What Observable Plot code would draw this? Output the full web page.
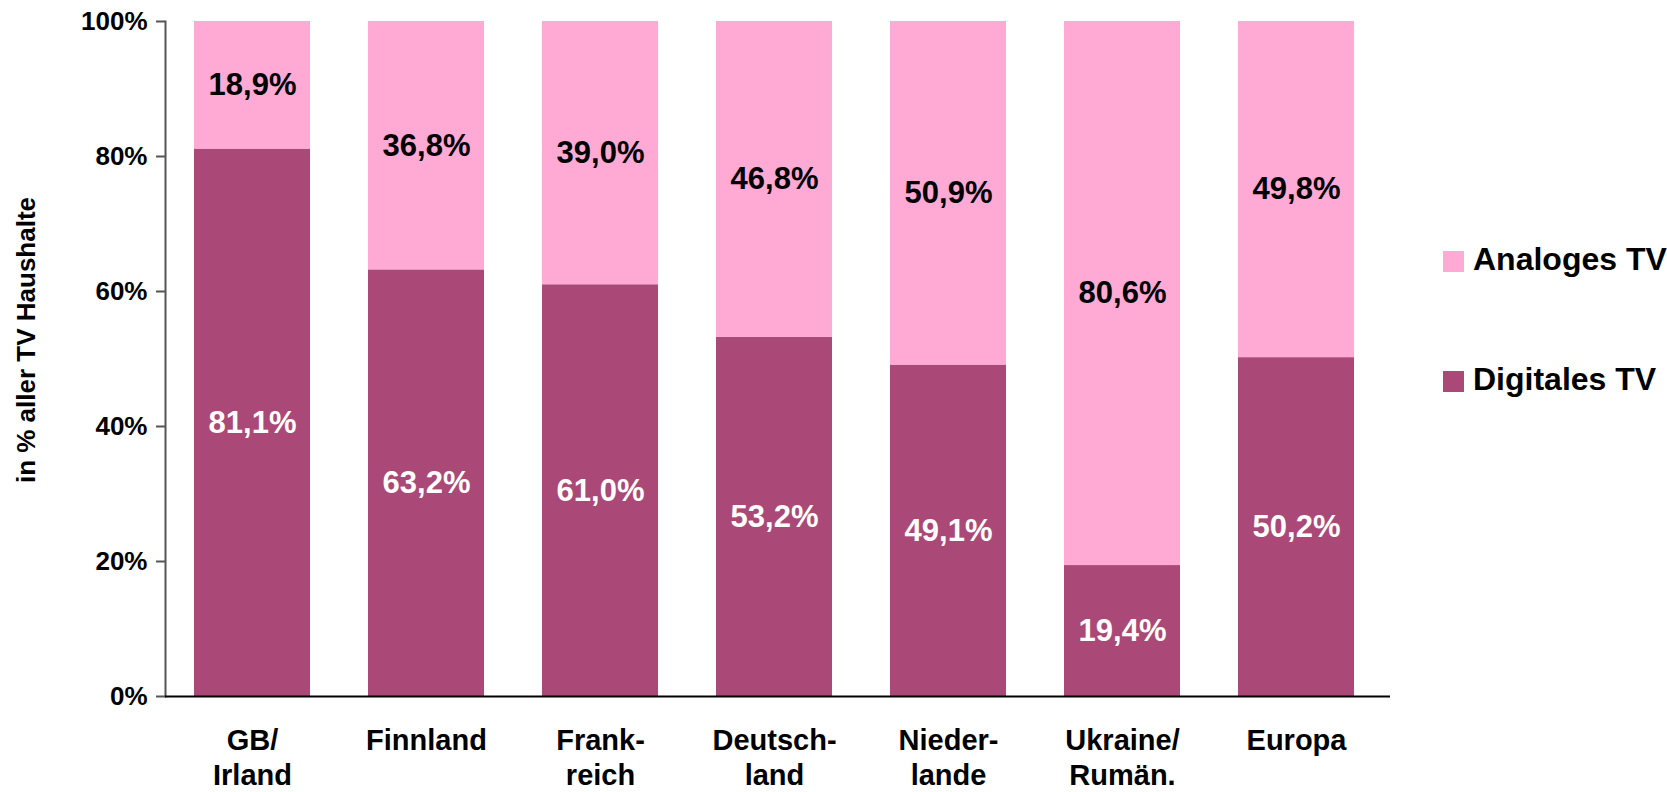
<!DOCTYPE html>
<html>
<head>
<meta charset="utf-8">
<script src="https://cdn.jsdelivr.net/npm/d3@7"></script>
<script src="https://cdn.jsdelivr.net/npm/@observablehq/plot@0.6"></script>
<style>
  html, body { margin: 0; padding: 0; background: #fff; }
  #wrap { position: relative; width: 1667px; height: 792px; font-family: "Liberation Sans", Arial, sans-serif; }
</style>
</head>
<body>
<div id="wrap"></div>
<script>
const countries = ["GB/Irland", "Finnland", "Frankreich", "Deutschland", "Niederlande", "Ukraine/Rumänien", "Europa"];
const countryLabels = ["GB/\nIrland", "Finnland", "Frank-\nreich", "Deutsch-\nland", "Nieder-\nlande", "Ukraine/\nRumän.", "Europa"];
const digital = [81.1, 63.2, 61.0, 53.2, 49.1, 19.4, 50.2];
const analog = [18.9, 36.8, 39.0, 46.8, 50.9, 80.6, 49.8];
const seriesNames = ["Digitales TV", "Analoges TV"];
const seriesColors = ["#AA4977", "#FFA9D5"];
const labelColors = ["#ffffff", "#000000"];
const yTicks = [0, 20, 40, 60, 80, 100];
const yTitle = "in % aller TV Haushalte";

const rows = [];
countries.forEach((c, i) => {
  const d = digital[i], a = analog[i];
  rows.push({country: c, series: seriesNames[0], value: d, y1: 0, y2: d});
  rows.push({country: c, series: seriesNames[1], value: a, y1: d, y2: d + a});
});
const fmt = v => v.toFixed(1).replace(".", ",") + "%";

const font = "Liberation Sans, Arial, sans-serif";
const chart = Plot.plot({
  width: 1667,
  height: 792,
  marginLeft: 165,
  marginRight: 277,
  marginTop: 21,
  marginBottom: 96,
  style: {fontFamily: font, background: "#fff", overflow: "visible"},
  x: {domain: countries, paddingInner: 0.331, paddingOuter: 0.175, align: 0.45, label: null},
  y: {domain: [0, 100], label: null},
  color: {domain: seriesNames, range: seriesColors},
  marks: [
    Plot.barY(rows, {x: "country", y1: "y1", y2: "y2", fill: "series"}),
    Plot.text(rows.filter(r => r.series === seriesNames[0]), {
      x: "country", y: r => (r.y1 + r.y2) / 2, text: r => fmt(r.value),
      fill: labelColors[0], fontSize: 31, fontWeight: "bold"
    }),
    Plot.text(rows.filter(r => r.series === seriesNames[1]), {
      x: "country", y: r => (r.y1 + r.y2) / 2, text: r => fmt(r.value),
      fill: labelColors[1], fontSize: 31, fontWeight: "bold"
    }),
    Plot.axisY({ticks: yTicks, tickFormat: d => d + "%", tickSize: 9, tickPadding: 9,
      fontSize: 26, fontWeight: "bold", stroke: "#555", strokeWidth: 2, strokeOpacity: 1, fill: "#000", label: null}),
    Plot.frame({anchor: "left", stroke: "#555", strokeWidth: 2}),
    Plot.axisX({tickSize: 0, tickPadding: 29, tickFormat: c => countryLabels[countries.indexOf(c)],
      fontSize: 29, fontWeight: "bold", lineHeight: 1.2, fill: "#000", label: null}),
    Plot.ruleY([0], {stroke: "#000", strokeWidth: 2}),
    Plot.text([yTitle], {frameAnchor: "left", rotate: -90, dx: -149, dy: -19, lineAnchor: "top",
      textAnchor: "middle", text: d => d, fontSize: 26, fontWeight: "bold", fill: "#000"})
  ]
});
const wrap = document.getElementById("wrap");
wrap.appendChild(chart);

const legendTops = [251, 371];
[1, 0].forEach((si, k) => {
  const sw = document.createElement("div");
  sw.style.cssText = `position:absolute;left:1443px;top:${legendTops[k]}px;width:21px;height:21px;background:${seriesColors[si]};`;
  wrap.appendChild(sw);
  const t = document.createElement("div");
  t.style.cssText = `position:absolute;left:1473px;top:${legendTops[k] - 13}px;height:42px;line-height:42px;white-space:nowrap;` +
    `font-family:'Liberation Sans',Arial,sans-serif;font-weight:bold;font-size:32px;color:#000;`;
  t.textContent = seriesNames[si];
  wrap.appendChild(t);
});
</script>
</body>
</html>
